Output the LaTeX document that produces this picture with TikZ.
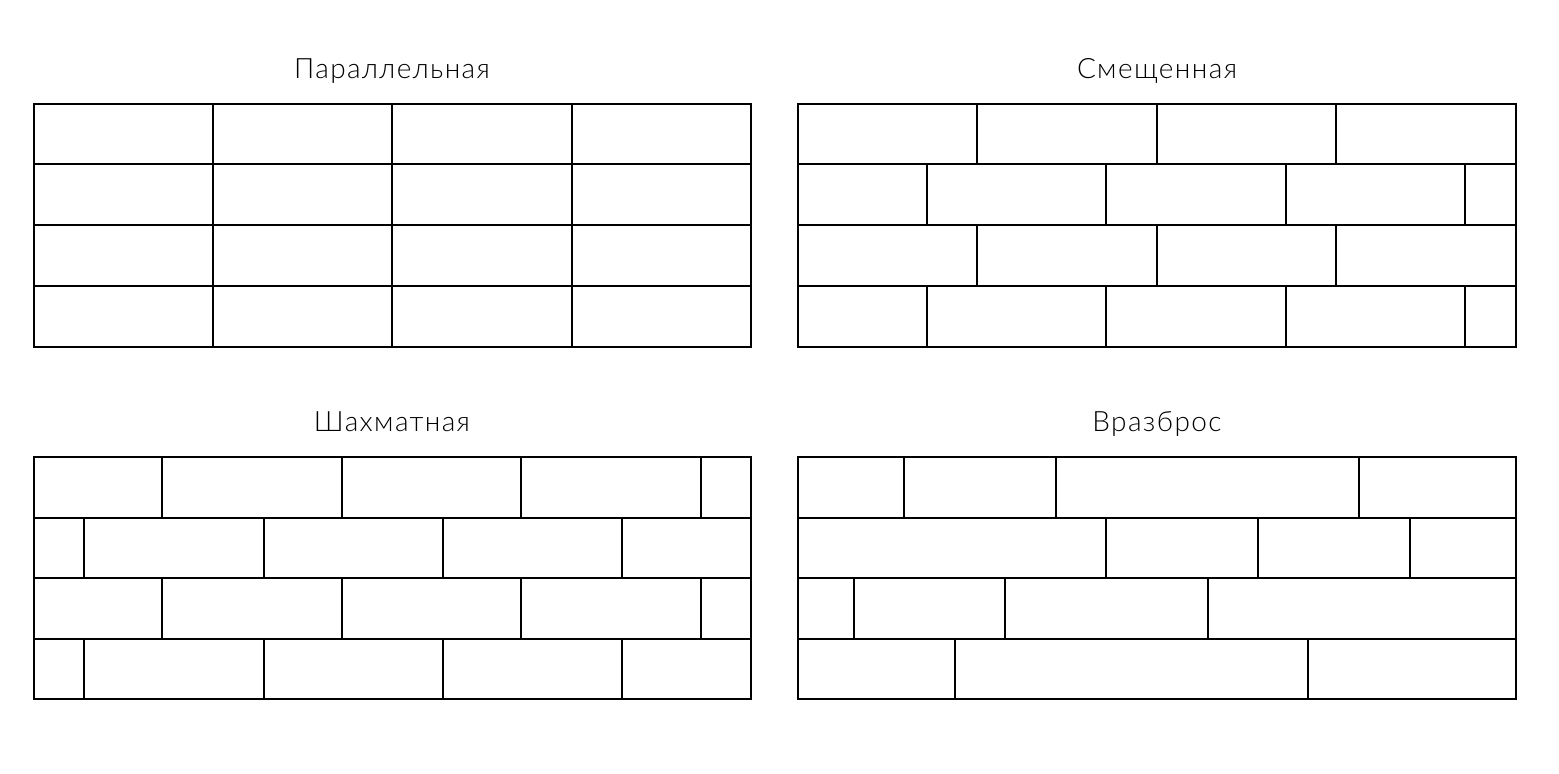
\documentclass[tikz,border=0pt]{standalone}
\usepackage{fontspec}
\setmainfont{Lato}[UprightFont=* Light, LetterSpace=5]
\begin{document}
\begin{tikzpicture}[x=0.5pt,y=-0.5pt]
      \tikzset{brick/.style={draw, line width=1pt}, title/.style={anchor=base, font=\fontsize{14}{16}\selectfont}}
      \useasboundingbox (0,0) rectangle (1559,774);
%% Titles
      \node[title] (parallel) at (392,79) {Параллельная};
      \node[title] (offset) at (1157,79) {Смещенная};
      \node[title] (chess) at (392,432) {Шахматная};
      \node[title] (random) at (1157,432) {Вразброс};
%% Parallel
      \draw[brick] (34,104) rectangle (751,347);
      \foreach \y in {164,225,286} \draw[brick] (34,\y) -- (751,\y);
      \foreach \x in {213,392,572} \draw[brick] (\x,104) -- (\x,347);
%% Offset
      \draw[brick] (798,104) rectangle (1516,347);
      \foreach \y in {164,225,286} \draw[brick] (798,\y) -- (1516,\y);
      \foreach \ya/\yb/\xs in {104/164/{977,1157,1336}, 164/225/{927,1106,1286,1465},
                               225/286/{977,1157,1336}, 286/347/{927,1106,1286,1465}}
        \foreach \x in \xs \draw[brick] (\x,\ya) -- (\x,\yb);
%% Chess
      \draw[brick] (34,457) rectangle (751,699);
      \foreach \y in {518,578,639} \draw[brick] (34,\y) -- (751,\y);
      \foreach \ya/\yb/\xs in {457/518/{162,342,521,701}, 518/578/{84,264,443,622},
                               578/639/{162,342,521,701}, 639/699/{84,264,443,622}}
        \foreach \x in \xs \draw[brick] (\x,\ya) -- (\x,\yb);
%% Random
      \draw[brick] (798,457) rectangle (1516,699);
      \foreach \y in {518,578,639} \draw[brick] (798,\y) -- (1516,\y);
      \foreach \ya/\yb/\xs in {457/518/{904,1056,1359}, 518/578/{1106,1258,1410},
                               578/639/{854,1005,1208}, 639/699/{955,1308}}
        \foreach \x in \xs \draw[brick] (\x,\ya) -- (\x,\yb);
\end{tikzpicture}
\end{document}
